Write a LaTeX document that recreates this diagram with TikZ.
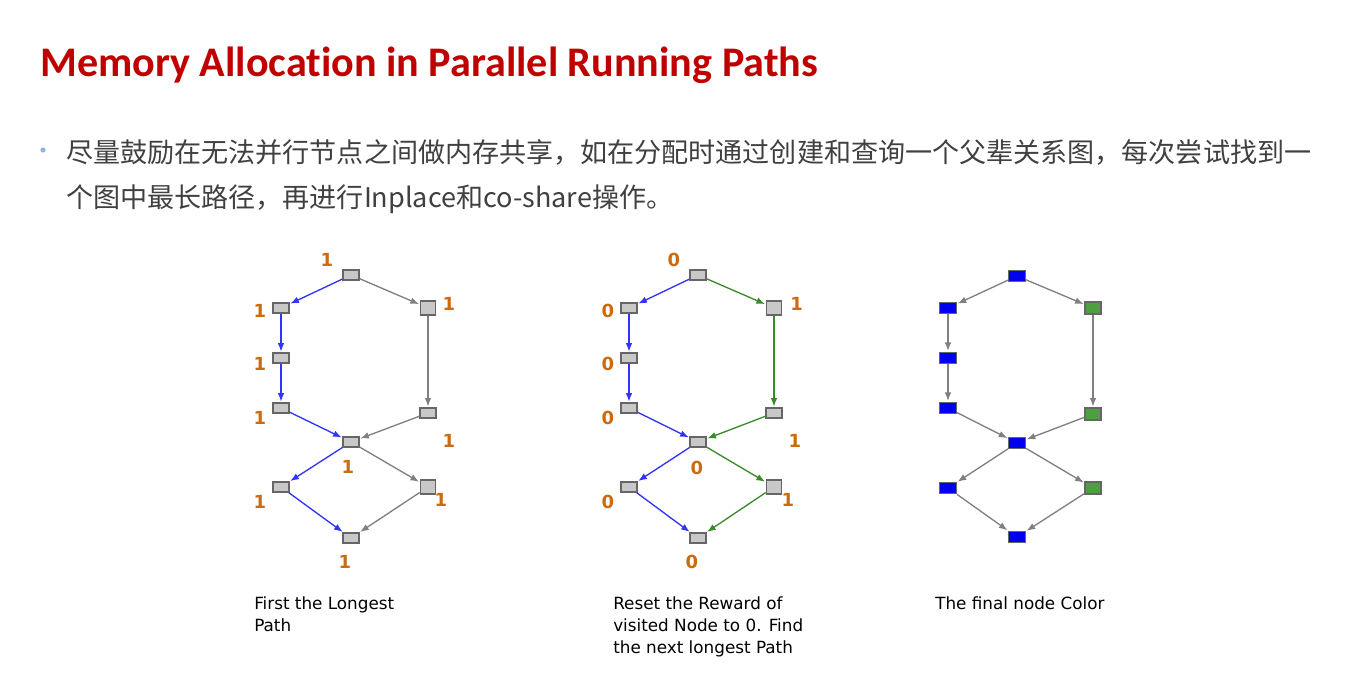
\documentclass[tikz,border=0pt]{standalone}
\usepackage{fontspec}
\setmainfont{Carlito}[Ligatures=NoCommon]
\newfontfamily\cjk{Noto Sans CJK SC}
\newfontfamily\capfont{DejaVu Sans}
\usetikzlibrary{positioning,arrows.meta}
\definecolor{titlered}{HTML}{C00000}
\definecolor{bodygrey}{HTML}{404040}
\definecolor{bulletblue}{HTML}{8DB4E2}
\definecolor{nodegrey}{HTML}{C8C8C8}
\definecolor{nodeborder}{HTML}{666666}
\definecolor{pathblue}{HTML}{3333FF}
\definecolor{pathgreen}{HTML}{3A8A2A}
\definecolor{edgegrey}{HTML}{808080}
\definecolor{rewardorange}{HTML}{CC6A10}
\definecolor{fillblue}{HTML}{0000F0}
\definecolor{fillgreen}{HTML}{4CA040}

\begin{document}
\begin{tikzpicture}[x=0.75pt,y=-0.75pt,on grid,shorten >=0.5pt,
  >={Latex[length=6.5pt,width=5pt]},
  nd/.style={draw=nodeborder,fill=nodegrey,line width=1pt,
    minimum width=12pt,minimum height=7.5pt,inner sep=0pt},
  ndsq/.style={nd,minimum width=11.5pt,minimum height=10.5pt},
  ndblue/.style={nd,fill=fillblue,minimum width=12.5pt,minimum height=8.5pt},
  ndgreen/.style={nd,fill=fillgreen,minimum width=12pt,minimum height=9pt},
  rw/.style={text=rewardorange,font=\capfont\bfseries\fontsize{13.5}{13.5}\selectfont,inner sep=0pt},
  ln/.style={line width=1pt},
  captxt/.style={anchor=north west,align=left,inner sep=0pt,
    font=\capfont\fontsize{12.6}{16.5}\selectfont}]
  \useasboundingbox (0,0) rectangle (1368,696);

  % title and text
  \node[anchor=west,inner sep=0pt,text=titlered,font=\bfseries\fontsize{31.6}{31.6}\selectfont]
    (title) at (40,65) {Memory Allocation in Parallel Running Paths};
  \fill[bulletblue] (43,150) circle (2.6);
  \node[anchor=west,inner sep=0pt,text=bodygrey,font=\cjk\fontsize{20.3}{20.3}\selectfont]
    (line1) at (66,152) {尽量鼓励在无法并行节点之间做内存共享，如在分配时通过创建和查询一个父辈关系图，每次尝试找到一};
  \node[anchor=west,inner sep=0pt,text=bodygrey,font=\cjk\fontsize{20.3}{20.3}\selectfont]
    (line2) at (66,199) {个图中最长路径，再进行Inplace和co-share操作。};

  % graph 1
  \node[nd] (t1) at (351,275) {};
  \node[nd] (l1a) [below left=24.75pt and 52.5pt of t1] {};
  \node[nd] (l1b) [below=37.5pt of l1a] {};
  \node[nd] (l1c) [below=37.5pt of l1b] {};
  \node[ndsq] (r1a) [below right=24.75pt and 57.75pt of t1] {};
  \node[nd] (r1b) [below=78.75pt of r1a] {};
  \node[nd] (m1) [below=125.25pt of t1] {};
  \node[nd] (l1d) [below left=33.75pt and 52.5pt of m1] {};
  \node[ndsq] (r1d) [below right=33.75pt and 57.75pt of m1] {};
  \node[nd] (b1) [below=72pt of m1] {};
  \node[rw] [above left=11.25pt and 18pt of t1] {1};
  \node[rw] [below left=2.25pt and 15.75pt of l1a] {1};
  \node[rw] [below left=4.5pt and 15.75pt of l1b] {1};
  \node[rw] [below left=7.5pt and 15.75pt of l1c] {1};
  \node[rw] [above right=3pt and 15.75pt of r1a] {1};
  \node[rw] [below right=21pt and 15.75pt of r1b] {1};
  \node[rw] [below left=18.75pt and 2.25pt of m1] {1};
  \node[rw] [below left=11.25pt and 15.75pt of l1d] {1};
  \node[rw] [below right=9.75pt and 9.75pt of r1d] {1};
  \node[rw] [below left=18pt and 4.5pt of b1] {1};
  \path[->,ln]
  (t1) edge [pathblue] (l1a)
       edge [edgegrey] (r1a)
  (l1a) edge [pathblue] (l1b)
  (l1b) edge [pathblue] (l1c)
  (l1c) edge [pathblue] (m1)
  (r1a) edge [edgegrey] (r1b)
  (r1b) edge [edgegrey] (m1)
  (m1) edge [pathblue] (l1d)
       edge [edgegrey] (r1d)
  (l1d) edge [pathblue] (b1)
  (r1d) edge [edgegrey] (b1)
  ;

  % graph 2
  \node[nd] (t2) at (698,275) {};
  \node[nd] (l2a) [below left=24.75pt and 51.75pt of t2] {};
  \node[nd] (l2b) [below=37.5pt of l2a] {};
  \node[nd] (l2c) [below=37.5pt of l2b] {};
  \node[ndsq] (r2a) [below right=24.75pt and 57pt of t2] {};
  \node[nd] (r2b) [below=78.75pt of r2a] {};
  \node[nd] (m2) [below=125.25pt of t2] {};
  \node[nd] (l2d) [below left=33.75pt and 51.75pt of m2] {};
  \node[ndsq] (r2d) [below right=33.75pt and 57pt of m2] {};
  \node[nd] (b2) [below=72pt of m2] {};
  \node[rw] [above left=11.25pt and 18pt of t2] {0};
  \node[rw] [below left=2.25pt and 15.75pt of l2a] {0};
  \node[rw] [below left=4.5pt and 15.75pt of l2b] {0};
  \node[rw] [below left=7.5pt and 15.75pt of l2c] {0};
  \node[rw] [above right=3pt and 17pt of r2a] {1};
  \node[rw] [below right=21pt and 15.75pt of r2b] {1};
  \node[rw] [below left=19.5pt and 0.75pt of m2] {0};
  \node[rw] [below left=11.25pt and 15.75pt of l2d] {0};
  \node[rw] [below right=9.75pt and 10.5pt of r2d] {1};
  \node[rw] [below left=18pt and 4.5pt of b2] {0};
  \path[->,ln]
  (t2) edge [pathblue] (l2a)
       edge [pathgreen] (r2a)
  (l2a) edge [pathblue] (l2b)
  (l2b) edge [pathblue] (l2c)
  (l2c) edge [pathblue] (m2)
  (r2a) edge [pathgreen] (r2b)
  (r2b) edge [pathgreen] (m2)
  (m2) edge [pathblue] (l2d)
       edge [pathgreen] (r2d)
  (l2d) edge [pathblue] (b2)
  (r2d) edge [pathgreen] (b2)
  ;

  % graph 3
  \node[ndblue] (t3) at (1017,276) {};
  \node[ndblue] (l3a) [below left=24pt and 51.75pt of t3] {};
  \node[ndblue] (l3b) [below=37.5pt of l3a] {};
  \node[ndblue] (l3c) [below=37.5pt of l3b] {};
  \node[ndgreen] (r3a) [below right=24pt and 57pt of t3] {};
  \node[ndgreen] (r3b) [below=79.5pt of r3a] {};
  \node[ndblue] (m3) [below=125.25pt of t3] {};
  \node[ndblue] (l3d) [below left=33.75pt and 51.75pt of m3] {};
  \node[ndgreen] (r3d) [below right=33.75pt and 57pt of m3] {};
  \node[ndblue] (b3) [below=70.5pt of m3] {};
  \path[->,ln,edgegrey]
  (t3) edge (l3a)
       edge (r3a)
  (l3a) edge (l3b)
  (l3b) edge (l3c)
  (l3c) edge (m3)
  (r3a) edge (r3b)
  (r3b) edge (m3)
  (m3) edge (l3d)
       edge (r3d)
  (l3d) edge (b3)
  (r3d) edge (b3)
  ;

  % captions
  \node[captxt] (cap1) at (254,596) {First the Longest\\Path};
  \node[captxt] (cap2) at (613,596) {Reset the Reward of\\visited Node to 0. Find\\the next longest Path};
  \node[captxt] (cap3) at (935,596) {The final node Color};
\end{tikzpicture}
\end{document}
